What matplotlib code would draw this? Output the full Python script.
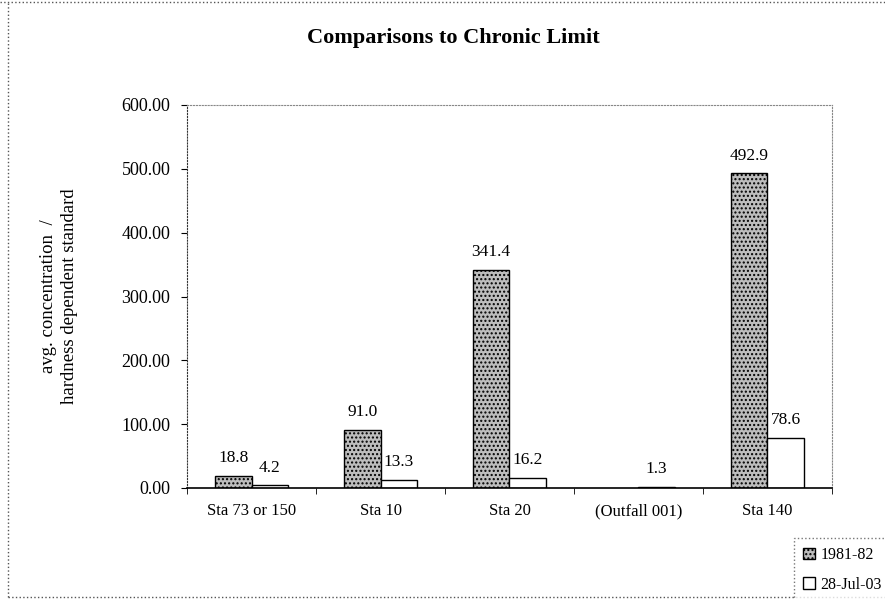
import matplotlib.pyplot as plt
import numpy as np
from matplotlib.lines import Line2D
from matplotlib.patches import Patch

plt.rcParams["font.family"] = ["Liberation Serif", "DejaVu Serif"]

categories = ["Sta 73 or 150", "Sta 10", "Sta 20", "(Outfall 001)", "Sta 140"]
series_names = ["1981-82", "28-Jul-03"]
values_1981 = [18.8, 91.0, 341.4, np.nan, 492.9]
values_2003 = [4.2, 13.3, 16.2, 1.3, 78.6]
y_ticks = [0, 100, 200, 300, 400, 500, 600]

fig = plt.figure(figsize=(8.85, 5.99), dpi=100)
ax = fig.add_axes([187 / 885, 1 - 488 / 599, 645 / 885, 383 / 599])

x = np.arange(len(categories))
width = 0.283
bars_a = ax.bar(x - width / 2, values_1981, width, color="#bdbdbd",
                edgecolor="black", linewidth=1.0, hatch="....")
bars_b = ax.bar(x + width / 2, values_2003, width, color="white",
                edgecolor="black", linewidth=1.0)

for bars, vals in ((bars_a, values_1981), (bars_b, values_2003)):
    for bar, v in zip(bars, vals):
        if np.isnan(v):
            continue
        ax.annotate(f"{v:.1f}", (bar.get_x() + bar.get_width() / 2, v),
                    xytext=(0, 7), textcoords="offset points",
                    ha="center", va="bottom", fontsize=12.5)

ax.set_xlim(-0.5, len(categories) - 0.5)
ax.set_ylim(0, 600)
ax.set_yticks(y_ticks, [f"{t:.2f}" for t in y_ticks], fontsize=13)
ax.set_xticks(x, categories, fontsize=12)
ax.set_xticks(np.arange(len(categories) + 1) - 0.5, minor=True)
ax.tick_params(axis="x", which="major", length=0, pad=11)
ax.tick_params(axis="x", which="minor", length=4, direction="out")
ax.tick_params(axis="y", length=4, direction="out", pad=8)

for side in ("top", "right"):
    ax.spines[side].set_linestyle(":")
    ax.spines[side].set_color("#888888")
ax.spines["left"].set_linestyle(":")
ax.spines["left"].set_color("#333333")
ax.spines["bottom"].set_linewidth(1.2)

fig.text(59 / 885, 1 - 296 / 599,
         "avg. concentration  /\nhardness dependent standard",
         rotation=90, ha="center", va="center", fontsize=13.5,
         linespacing=1.25)
fig.text(453 / 885, 1 - 38 / 599, "Comparisons to Chronic Limit",
         ha="center", va="center", fontsize=16, fontweight="bold")

handles = [Patch(facecolor="#bdbdbd", edgecolor="black", hatch="...."),
           Patch(facecolor="white", edgecolor="black")]
leg = fig.legend(handles, series_names, loc="lower right",
                 bbox_to_anchor=(1.006, -0.004), fontsize=11.5, frameon=True,
                 fancybox=False, handlelength=0.75, handleheight=0.75,
                 handletextpad=0.35, borderpad=0.55, labelspacing=0.85,
                 borderaxespad=0.0)
leg.get_frame().set_linestyle(":")
leg.get_frame().set_edgecolor("#555555")

# dotted outline of the chart area
for xs, ys in (([8 / 885, 8 / 885], [0.003, 0.997]),
               ([8 / 885, 1.0], [0.003, 0.003]),
               ([0.0, 1.0], [0.997, 0.997])):
    fig.add_artist(Line2D(xs, ys, transform=fig.transFigure, color="#555555",
                          linestyle=":", linewidth=1.0))

fig.savefig("out.png", dpi=100)
